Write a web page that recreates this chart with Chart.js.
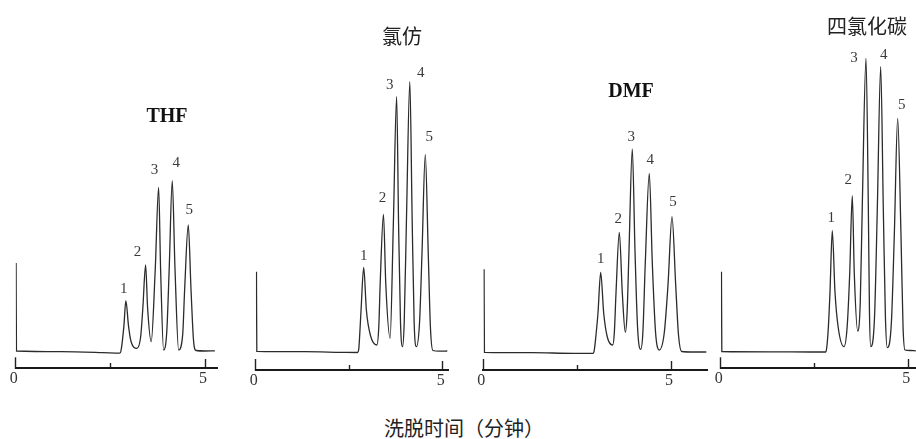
<!DOCTYPE html>
<html>
<head>
<meta charset="utf-8">
<script src="https://cdn.jsdelivr.net/npm/chart.js@4"></script>
<style>
  html, body { margin: 0; padding: 0; background: #fff; }
  body { width: 916px; height: 439px; position: relative; overflow: hidden; }
  canvas { position: absolute; top: 0; }
  .t { position: absolute; transform: translate(-50%, -50%); line-height: 1; white-space: nowrap; color: #111; }
  .latin { font-family: "Liberation Serif", "DejaVu Serif", serif; font-size: 20px; font-weight: bold; }
  .cjk { font-family: "Noto Sans CJK SC", sans-serif; font-size: 20px; color: #222; }
</style>
</head>
<body>
<canvas id="thf"></canvas>
<canvas id="chloroform"></canvas>
<canvas id="dmf"></canvas>
<canvas id="ccl4"></canvas>

<div class="t latin" style="left:167px; top:115px;">THF</div>
<div class="t cjk" style="left:402px; top:36px;">氯仿</div>
<div class="t latin" style="left:631px; top:90px;">DMF</div>
<div class="t cjk" style="left:867px; top:26px;">四氯化碳</div>
<div class="t cjk" style="left:464px; top:428px;">洗脱时间（分钟）</div>

<script>
        // Axis ticks (minutes)
        const tickValues = [0, 2.5, 5];
        const tickLabels = ['0', '', '5'];
        const peakNames = ['1', '2', '3', '4', '5'];

        // THF chromatogram (time in min, detector response)
        const thfTime   = [0.01, 0.02, 1.2, 2.3, 2.75, 2.78, 2.857, 2.91, 2.981, 3.05, 3.201, 3.30, 3.36, 3.431, 3.484, 3.579, 3.685, 3.775, 3.828, 3.907, 3.99, 4.056, 4.135, 4.206, 4.304, 4.41, 4.463, 4.558, 4.630, 4.696, 4.762, 5.0, 5.26];
        const thfSignal = [89, 1, 0.3, -0.6, -1.2, 1, 25.6, 51.3, 25.6, 10, 3.7, 15, 45, 87, 44, 10.3, 82, 164.7, 82, 2, 20, 85, 171.3, 85, 2, 17, 63, 127, 63, 12, 1.5, 1, 1.2];
        const thfPeakTime   = [2.91, 3.431, 3.775, 4.135, 4.558];
        const thfPeakHeight = [51.3, 87, 164.7, 171.3, 127];

        // Chloroform
        const chloroformTime   = [0.02, 0.03, 1.3, 2.3, 2.72, 2.755, 2.78, 2.816, 2.887, 2.958, 3.064, 3.238, 3.29, 3.328, 3.415, 3.476, 3.592, 3.679, 3.767, 3.819, 3.87, 3.925, 3.97, 4.031, 4.120, 4.181, 4.235, 4.295, 4.38, 4.445, 4.533, 4.612, 4.67, 4.736, 4.9, 5.12];
        const chloroformSignal = [80.3, 0.7, 0.3, -0.3, -0.5, 3, 17, 42, 84.7, 42, 17, 7, 25, 69, 137.7, 69, 13.7, 128, 255.3, 128, 30, 5.3, 30, 135, 270.3, 135, 30, 5.3, 30, 99, 197.7, 99, 25, 1.5, 0.8, 1];
        const chloroformPeakTime   = [2.887, 3.415, 3.767, 4.120, 4.533];
        const chloroformPeakHeight = [84.7, 137.7, 255.3, 270.3, 197.7];

        // DMF
        const dmfTime   = [0.02, 0.03, 1.3, 2.4, 2.93, 2.957, 3.007, 3.055, 3.127, 3.207, 3.303, 3.447, 3.49, 3.535, 3.623, 3.703, 3.783, 3.83, 3.881, 3.969, 4.041, 4.11, 4.193, 4.25, 4.315, 4.422, 4.502, 4.59, 4.688, 4.82, 4.92, 5.027, 5.125, 5.2, 5.285, 5.6, 5.94];
        const dmfSignal = [83.7, 0.7, 0.3, -0.3, -0.3, 3, 20, 40, 80.7, 40, 16, 8, 20, 60, 120.7, 60, 20.7, 40, 102, 204, 102, 25, 3.7, 20, 90, 179.7, 90, 20, 3, 20, 68, 136.3, 68, 18, 1.5, 1, 1];
        const dmfPeakTime   = [3.127, 3.623, 3.969, 4.422, 5.027];
        const dmfPeakHeight = [80.7, 120.7, 204, 179.7, 136.3];

        // Carbon tetrachloride
        const ccl4Time   = [0.02, 0.03, 1.3, 2.4, 2.80, 2.825, 2.87, 2.913, 2.974, 3.046, 3.134, 3.286, 3.37, 3.438, 3.507, 3.561, 3.651, 3.72, 3.774, 3.873, 3.934, 3.965, 3.998, 4.10, 4.174, 4.264, 4.334, 4.39, 4.440, 4.55, 4.627, 4.717, 4.805, 4.86, 4.912, 5.05, 5.2];
        const ccl4Signal = [80.3, 0.5, 0.2, 0, 0, 4, 25, 60, 121.3, 60, 24, 5.3, 25, 78, 156.3, 78, 21, 50, 147, 293.7, 147, 40, 5.3, 35, 143, 285.3, 143, 35, 4.3, 30, 117, 233.7, 117, 25, 2, 1.5, 1.2];
        const ccl4PeakTime   = [2.974, 3.507, 3.873, 4.264, 4.717];
        const ccl4PeakHeight = [121.3, 156.3, 293.7, 285.3, 233.7];

        // Panel layout (pixels) and label nudges
        const CANVAS_H = 400;
        const PAD_L = 20, PAD_R = 8, PAD_T = 30;
        const panels = [
            { id: 'thf', time: thfTime, signal: thfSignal, peakTime: thfPeakTime, peakHeight: thfPeakHeight,
              x0: 15.7, pxPerMin: 37.86, baseY: 352, axisY: 368.3, tEnd: 5.32,
              labelOffsets: [[-2, -12], [-8, -13], [-4, -17], [4, -18], [1, -15]] },
            { id: 'chloroform', time: chloroformTime, signal: chloroformSignal, peakTime: chloroformPeakTime, peakHeight: chloroformPeakHeight,
              x0: 255.7, pxPerMin: 37.86, baseY: 352, axisY: 370, tEnd: 5.14,
              labelOffsets: [[0, -11], [-1, -16], [-7, -12], [11, -9], [4, -17]] },
            { id: 'dmf', time: dmfTime, signal: dmfSignal, peakTime: dmfPeakTime, peakHeight: dmfPeakHeight,
              x0: 483.3, pxPerMin: 37.54, baseY: 353, axisY: 370, tEnd: 5.96,
              labelOffsets: [[0, -13], [-1, -13], [-1, -12], [1, -13], [1, -15]] },
            { id: 'ccl4', time: ccl4Time, signal: ccl4Signal, peakTime: ccl4PeakTime, peakHeight: ccl4PeakHeight,
              x0: 720.7, pxPerMin: 37.52, baseY: 352, axisY: 368.3, tEnd: 5.21,
              labelOffsets: [[-1, -13], [-4, -16], [-12, 0], [3, -12], [4, -13]] }
        ];

        // Peak number labels drawn above each apex
        const peakLabelPlugin = {
            id: 'peakLabels',
            afterDatasetsDraw(chart, args, opts) {
                const { ctx, scales } = chart;
                ctx.save();
                ctx.font = '15px "Liberation Serif", "DejaVu Serif", serif';
                ctx.fillStyle = '#3a3a3a';
                ctx.textAlign = 'center';
                ctx.textBaseline = 'middle';
                opts.times.forEach((t, i) => {
                    const x = scales.x.getPixelForValue(t) + opts.offsets[i][0];
                    const y = scales.y.getPixelForValue(opts.heights[i]) + opts.offsets[i][1];
                    ctx.fillText(peakNames[i], x, y);
                });
                ctx.restore();
            }
        };

        function initPanel(p) {
            const canvas = document.getElementById(p.id);
            const left = Math.round(p.x0) - PAD_L;
            const padL = p.x0 - left;
            const width = Math.ceil(padL + p.tEnd * p.pxPerMin + PAD_R);
            const padR = width - padL - p.tEnd * p.pxPerMin;
            canvas.width = width;
            canvas.height = CANVAS_H;
            canvas.style.left = left + 'px';
            canvas.style.width = width + 'px';
            canvas.style.height = CANVAS_H + 'px';

            return new Chart(canvas.getContext('2d'), {
                type: 'line',
                data: {
                    datasets: [{
                        data: p.time.map((t, i) => ({ x: t, y: p.signal[i] })),
                        borderColor: '#2b2b2b',
                        borderWidth: 1.3,
                        pointRadius: 0,
                        fill: false,
                        cubicInterpolationMode: 'monotone'
                    }]
                },
                options: {
                    responsive: false,
                    animation: false,
                    devicePixelRatio: 1,
                    layout: { padding: { left: padL, right: padR, top: PAD_T, bottom: 0 } },
                    plugins: {
                        legend: { display: false },
                        tooltip: { enabled: false },
                        peakLabels: { times: p.peakTime, heights: p.peakHeight, offsets: p.labelOffsets }
                    },
                    scales: {
                        x: {
                            type: 'linear',
                            min: 0,
                            max: p.tEnd,
                            afterBuildTicks: axis => { axis.ticks = tickValues.map(v => ({ value: v })); },
                            afterFit: axis => { axis.height = CANVAS_H - p.axisY; },
                            ticks: {
                                autoSkip: false,
                                maxRotation: 0,
                                padding: 12,
                                labelOffset: -2,
                                color: '#333',
                                font: { family: '"Liberation Serif", "DejaVu Serif", serif', size: 16 },
                                callback: (value, index) => tickLabels[index]
                            },
                            grid: {
                                drawOnChartArea: false,
                                drawTicks: true,
                                tickLength: -11,
                                tickWidth: 1.4,
                                tickColor: '#222',
                                tickBorderDash: ctx => {
                                    if (!ctx.tick) return [];
                                    if (ctx.tick.value === 2.5) return [6, 60];
                                    if (ctx.tick.value === 5) return [10, 60];
                                    return [];
                                }
                            },
                            border: { display: true, color: '#1a1a1a', width: 2 }
                        },
                        y: {
                            display: false,
                            min: p.baseY - p.axisY,
                            max: p.baseY - PAD_T
                        }
                    }
                },
                plugins: [peakLabelPlugin]
            });
        }

        document.addEventListener('DOMContentLoaded', function() {
            panels.forEach(initPanel);
        });
</script>
</body>
</html>
